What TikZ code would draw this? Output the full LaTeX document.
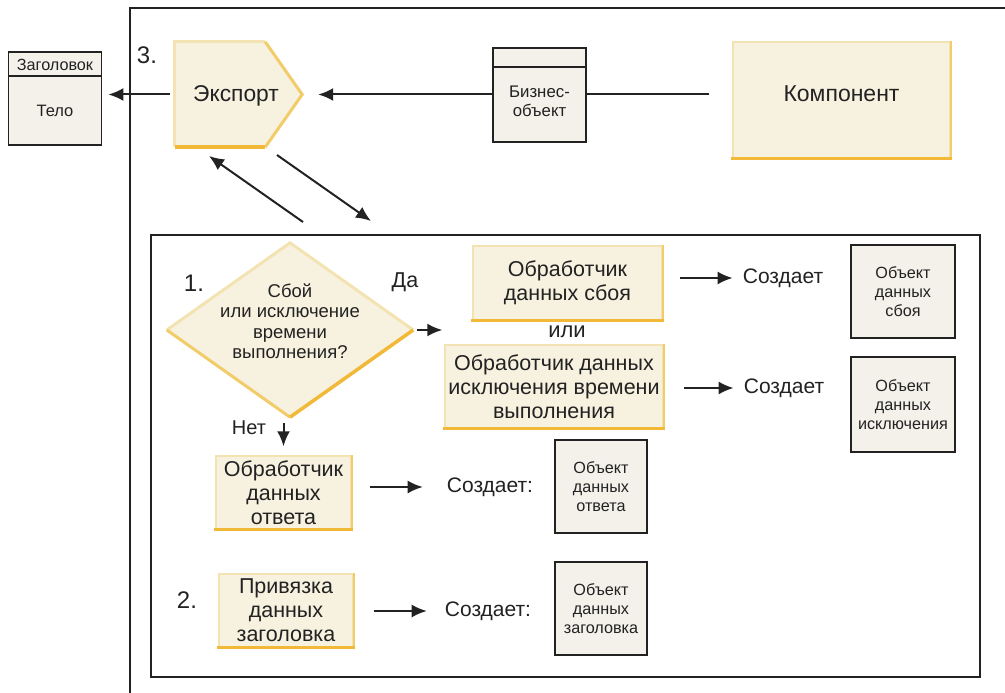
\documentclass[tikz,border=0pt]{standalone}
\usepackage{fontspec}
\setmainfont{Liberation Sans}
\usetikzlibrary{arrows.meta,calc,shapes.geometric}
\definecolor{cream}{HTML}{F7F1DF}
\definecolor{ylight}{HTML}{F4E3B2}
\definecolor{ymed}{HTML}{F3CC6A}
\definecolor{ydark}{HTML}{F1B937}
\definecolor{objfill}{HTML}{F3F1EA}
\definecolor{ink}{HTML}{222222}
\newcommand{\ydeco}[1]{%
  \draw[ymed, line width=2] (#1.north east) -- (#1.south east);
  \draw[ydark, line width=3] ([xshift=-1]#1.south west) -- ([xshift=1]#1.south east);}
\tikzset{
  ybox/.style={draw=ylight, fill=cream, line width=1.5, align=center, inner sep=0, text=ink,
    font=\fontsize{21.5}{24}\selectfont},
  obox/.style={draw=ink, fill=objfill, line width=1.8, align=center, inner sep=0, text=ink,
    font=\fontsize{16.2}{18.8}\selectfont},
  arr/.style={-{Latex[length=15pt,width=13pt]}, line width=2, draw=ink},
  txt/.style={text=ink, inner sep=0, align=center},
  big/.style={txt, font=\fontsize{21}{24}\selectfont},
  num/.style={txt, font=\fontsize{24}{28}\selectfont},
}
\begin{document}
\begin{tikzpicture}[x=1pt,y=-1pt]
\useasboundingbox (0,0) rectangle (1005,693);

% outer frame (left and top)
\coordinate (ofb) at (130,693);
\coordinate (oft) at (130,8);
\coordinate (ofr) at (1005,8);
\draw[ink, line width=1.5] (ofb) -- (oft) -- (ofr);

% header/body message
\node[draw=ink, fill=objfill, line width=1.8, minimum width=93, minimum height=93, inner sep=0] (hb) at (55,98.5) {};
\draw[ink, line width=1.8] ($(hb.north west)+(0,25)$) -- ($(hb.north east)+(0,25)$);
\node[txt, font=\fontsize{16.2}{18}\selectfont] (hbh) at (55,65) {Заголовок};
\node[txt, font=\fontsize{16.5}{18}\selectfont] (hbb) at (55,111) {Тело};

% export
\node[minimum width=127, minimum height=105, inner sep=0] (exp) at (238.5,94.5) {};
\coordinate (expne) at ($(exp.north east)+(-37,0)$);
\coordinate (expse) at ($(exp.south east)+(-37,0)$);
\fill[cream] (exp.north west) -- (expne) -- (exp.east) -- (expse) -- (exp.south west) -- cycle;
\draw[ylight, line width=3] (exp.south west) -- (exp.north west) -- (expne);
\draw[ymed, line width=3] (expne) -- (exp.east) -- (expse);
\draw[ydark, line width=3.5] (expse) -- (exp.south west);
\node[txt, font=\fontsize{22.8}{26}\selectfont] (expt) at (236,95.5) {Экспорт};
\node[num] (n3) at (147,55) {3.};

% component
\node[ybox, minimum width=217, minimum height=116] (comp) at (841.5,100) {};
\ydeco{comp}
\node[txt, font=\fontsize{23}{26}\selectfont] (compt) at (841.5,94) {Компонент};

% arrows top row
\draw[arr, shorten <=23, shorten >=16] (comp.west |- exp.east) -- (exp.east);
\draw[arr, shorten <=5, shorten >=6] (exp.west) -- (hb.east |- exp.west);

% business object
\node[draw=ink, fill=objfill, line width=1.8, minimum width=93, minimum height=94, inner sep=0] (bo) at (539.5,95) {};
\draw[ink, line width=1.8] ($(bo.north west)+(0,20)$) -- ($(bo.north east)+(0,20)$);
\node[txt, font=\fontsize{16.8}{19}\selectfont] (bot) at (539.5,101) {Бизнес-\\объект};

% diagonal arrows
\coordinate (u1) at (303,222);
\coordinate (u2) at (209,156);
\coordinate (d1) at (277,155);
\coordinate (d2) at (371,221);
\draw[arr] (u1) -- (u2);
\draw[arr] (d1) -- (d2);

% inner frame
\node[draw=ink, line width=2.5, minimum width=829, minimum height=442, inner sep=0] (frame) at (565.5,456) {};

% decision
\node[num] (n1) at (194,283) {1.};
\node[diamond, fill=cream, minimum width=246, minimum height=174, inner sep=0] (dia) at (290,330) {};
\draw[ylight, line width=3] (dia.west) -- (dia.north) -- (dia.east);
\draw[ymed, line width=3] (dia.west) -- (dia.south);
\draw[ydark, line width=3.5] (dia.south) -- (dia.east);
\node[txt, font=\fontsize{18.5}{20.5}\selectfont] (diat) at (290,321) {Сбой\\или исключение\\времени\\выполнения?};
\node[big, font=\fontsize{21.5}{24}\selectfont] (yes) at (405,282) {Да};
\node[big, font=\fontsize{20}{24}\selectfont] (no) at (249,428) {Нет};

% handlers
\node[ybox, minimum width=189, minimum height=74] (b1) at (567.5,283) {Обработчик\\данных сбоя};
\ydeco{b1}
\node[big, font=\fontsize{22}{24}\selectfont] (or) at (567,332) {или};
\node[ybox, minimum width=218, minimum height=83] (b2) at (554,386.5) {Обработчик данных\\исключения времени\\выполнения};
\ydeco{b2}
\node[ybox, minimum width=135, minimum height=73] (b3) at (283.5,492.5) {Обработчик\\данных\\ответа};
\ydeco{b3}
\node[num] (n2) at (187,600) {2.};
\node[ybox, minimum width=134, minimum height=73] (b4) at (286,610.5) {Привязка\\данных\\заголовка};
\ydeco{b4}

\draw[arr, shorten <=4, shorten >=2] (dia.east) -- (dia.east -| b2.west);
\draw[arr, shorten <=6, shorten >=9] (dia.south -| b3.north) -- (b3.north);

% creates
\node[big] (c1) at (783,278) {Создает};
\node[big] (c2) at (784,388) {Создает};
\node[big] (c3) at (490,487) {Создает:};
\node[big] (c4) at (488,611) {Создает:};
\draw[arr, shorten <=17, shorten >=10] (b1.east |- c1.west) -- (c1.west);
\draw[arr, shorten <=20, shorten >=10] (b2.east |- c2.west) -- (c2.west);
\draw[arr, shorten <=18, shorten >=24] (b3.east |- c3.west) -- (c3.west);
\draw[arr, shorten <=20, shorten >=18] (b4.east |- c4.west) -- (c4.west);

% data objects
\node[obox, minimum width=104, minimum height=93] (o1) at (903,291.5) {Объект\\данных\\сбоя};
\node[obox, minimum width=104, minimum height=95] (o2) at (903,404.5) {Объект\\данных\\исключения};
\node[obox, minimum width=92, minimum height=93] (o3) at (601,486.5) {Объект\\данных\\ответа};
\node[obox, minimum width=92, minimum height=93] (o4) at (601,608.5) {Объект\\данных\\заголовка};
\end{tikzpicture}
\end{document}
